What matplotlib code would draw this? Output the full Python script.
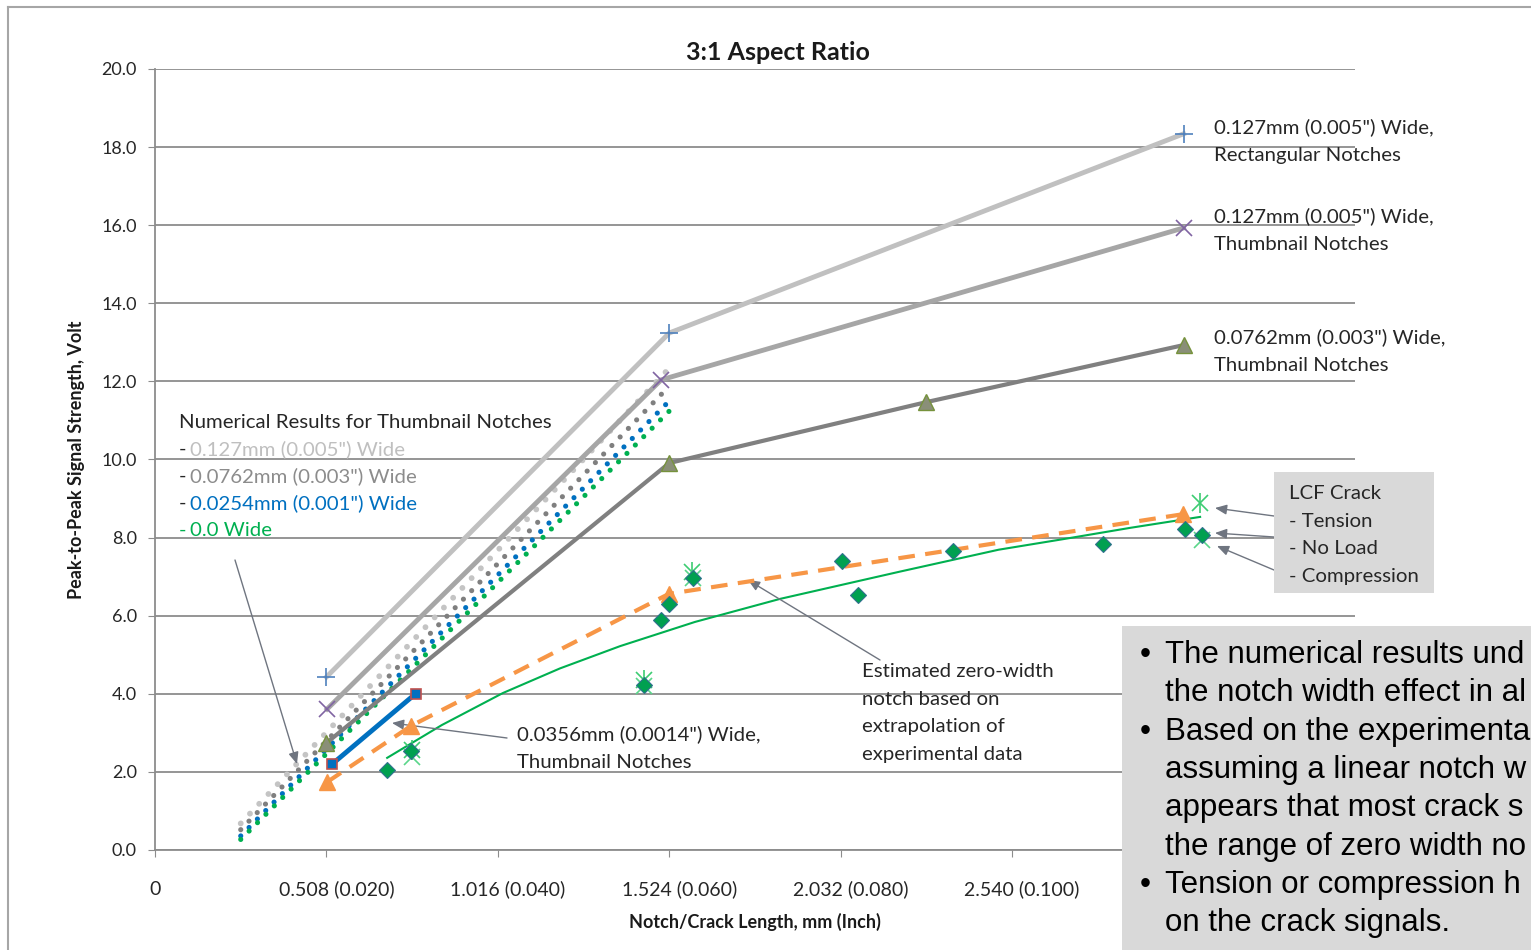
import matplotlib
matplotlib.use('Agg')
import matplotlib.pyplot as plt
from matplotlib.patches import Rectangle
from matplotlib.lines import Line2D
from matplotlib.transforms import ScaledTranslation

# Numerical results (thumbnail / rectangular notches), mm and Volt
x_rect127 = [0.508, 1.524, 3.048]
y_rect127 = [4.43, 13.24, 18.34]
x_thumb127 = [0.510, 1.500, 3.048]
y_thumb127 = [3.61, 12.04, 15.93]
x_thumb076 = [0.508, 1.524, 2.286, 3.048]
y_thumb076 = [2.74, 9.91, 11.47, 12.93]
x_thumb036 = [0.525, 0.772]
y_thumb036 = [2.20, 4.00]

# numerical thumbnail results (dotted)
x_num = [0.254, 1.524]
y_num127 = [0.68, 12.34]
y_num076 = [0.52, 11.88]
y_num025 = [0.36, 11.50]
y_num000 = [0.27, 11.24]

# LCF crack data
x_tension = [0.762, 1.449, 1.592, 3.097]
y_tension = [2.55, 4.35, 7.12, 8.89]
x_noload = [0.688, 0.759, 1.449, 1.500, 1.523, 1.595, 2.036, 2.084, 2.365, 2.810, 3.053, 3.103]
y_noload = [2.05, 2.54, 4.23, 5.89, 6.30, 6.97, 7.40, 6.53, 7.66, 7.84, 8.22, 8.07]
x_comp = [0.762, 1.449, 1.595, 3.103]
y_comp = [2.38, 4.20, 6.97, 7.94]

# estimated zero-width notch
x_est = [0.510, 0.759, 1.523, 3.047]
y_est = [1.74, 3.18, 6.56, 8.60]

# trend through experimental data
x_fit = [0.688, 0.85, 1.031, 1.2, 1.378, 1.6, 1.852, 2.208, 2.5, 2.691, 2.890, 3.097]
y_fit = [2.36, 3.20, 4.02, 4.65, 5.22, 5.84, 6.43, 7.13, 7.69, 7.96, 8.25, 8.53]

xtick_vals = [0, 0.508, 1.016, 1.524, 2.032, 2.540, 3.048]
xtick_labels = ['0', '0.508 (0.020)', '1.016 (0.040)', '1.524 (0.060)',
                '2.032 (0.080)', '2.540 (0.100)', '']

W, H = 1531, 950
FONT = 'Lato'
plt.rcParams['font.family'] = [FONT, 'DejaVu Sans']

fig = plt.figure(figsize=(W / 100, H / 100), dpi=100)


def fx(px):
    return px / W


def fy(py):
    return 1 - py / H


ax = fig.add_axes([fx(155), fy(850), 1200 / W, 781 / H])
ax.set_xlim(0, 3.556)
ax.set_ylim(0, 20)

grid_c = '#8c8c8c'
ax.set_yticks(range(0, 21, 2))
ax.set_yticklabels(['%.1f' % v for v in range(0, 21, 2)])
ax.set_xticks(xtick_vals)
ax.set_xticklabels(xtick_labels)
ax.yaxis.grid(True, color=grid_c, lw=1.3)
ax.set_axisbelow(True)
for s in ['top', 'right']:
    ax.spines[s].set_visible(False)
for s in ['left', 'bottom']:
    ax.spines[s].set_color(grid_c)
    ax.spines[s].set_linewidth(1.3)
ax.tick_params(axis='y', length=5, color=grid_c, pad=8, labelsize=13, labelcolor='#262626')
ax.tick_params(axis='x', length=5, color=grid_c, pad=17, labelsize=14, labelcolor='#262626')
# Excel puts the long labels a bit right of their ticks
shift = ScaledTranslation(10 / 100, 0, fig.dpi_scale_trans)
for lab in ax.get_xticklabels()[1:]:
    lab.set_transform(lab.get_transform() + shift)

# dotted numerical lines
dot = (0, (0.01, 2.3))
ax.plot(x_num, y_num127, ls=dot, color='#c4c4c4', lw=4.2, dash_capstyle='round', zorder=2)
ax.plot(x_num, y_num076, ls=dot, color='#7f7f7f', lw=3.7, dash_capstyle='round', zorder=2)
ax.plot(x_num, y_num025, ls=dot, color='#0070c0', lw=3.7, dash_capstyle='round', zorder=2)
ax.plot(x_num, y_num000, ls=dot, color='#00b050', lw=3.7, dash_capstyle='round', zorder=2)

# notch lines
ax.plot(x_rect127, y_rect127, color='#c0c0c0', lw=3.5, marker='+', ms=13, mew=1.2,
        mec='#4f81bd', zorder=3)
ax.plot(x_thumb127, y_thumb127, color='#a6a6a6', lw=3.5, marker='x', ms=11, mew=1.2,
        mec='#8064a2', zorder=3)
ax.plot(x_thumb076, y_thumb076, color='#808080', lw=3, marker='^', ms=11,
        mfc='#8a8f78', mec='#76923c', mew=1, zorder=3)
ax.plot(x_thumb036, y_thumb036, color='#0070c0', lw=3.5, marker='s', ms=7,
        mfc='#0070c0', mec='#c0504d', mew=1.2, zorder=3)

# experimental
ax.plot(x_fit, y_fit, color='#00b050', lw=1.5, zorder=3)
ax.plot(x_est, y_est, color='#f79646', lw=3, ls=(0, (4, 2.5)), marker='^', ms=11,
        mfc='#f79646', mec='#f79646', zorder=4)
ax.plot(x_tension, y_tension, ls='none', marker='x', ms=11, mew=1.2, mec='#3dcc72', zorder=4)
ax.plot(x_tension, y_tension, ls='none', marker='|', ms=15, mew=1.2, mec='#3dcc72', zorder=4)
ax.plot(x_comp, y_comp, ls='none', marker='x', ms=11, mew=1.2, mec='#5ad68a', zorder=4)
ax.plot(x_noload, y_noload, ls='none', marker='D', ms=8, mfc='#00a050', mec='#31708f',
        mew=0.8, zorder=5)

# outer chart border
fig.add_artist(Line2D([fx(8), fx(8)], [fy(7), 0], color='#a6a6a6', lw=1.5))
fig.add_artist(Line2D([fx(8), 1], [fy(7), fy(7)], color='#a6a6a6', lw=1.5))

# titles
fig.text(fx(778), fy(52), '3:1 Aspect Ratio', ha='center', va='center', fontsize=18,
         fontweight='bold', color='#1a1a1a')
fig.text(fx(77), fy(460), 'Peak-to-Peak Signal Strength, Volt', ha='center', va='center',
         rotation=90, fontsize=13, fontweight='bold', color='#1a1a1a')
fig.text(fx(755), fy(922), 'Notch/Crack Length, mm (Inch)', ha='center', va='center',
         fontsize=13, fontweight='bold', color='#1a1a1a')

tc = '#262626'
ts = 14.7
ls_ = 1.74
# numerical legend
fig.text(fx(179), fy(422), 'Numerical Results for Thumbnail Notches', va='center',
         fontsize=ts, color=tc)
leg_rows = [('0.127mm (0.005") Wide', '#bfbfbf', 449),
            ('0.0762mm (0.003") Wide', '#8c8c8c', 476),
            ('0.0254mm (0.001") Wide', '#0070c0', 503),
            ('0.0 Wide', '#00b050', 530)]
for lab, c, py in leg_rows:
    fig.text(fx(179), fy(py), '-', va='center', fontsize=ts, color=tc if c != '#00b050' else c)
    fig.text(fx(190), fy(py), lab, va='center', fontsize=ts, color=c)

# right labels
fig.text(fx(1214), fy(141), '0.127mm (0.005") Wide,\nRectangular Notches', va='center',
         fontsize=ts, color=tc, linespacing=ls_)
fig.text(fx(1214), fy(230), '0.127mm (0.005") Wide,\nThumbnail Notches', va='center',
         fontsize=ts, color=tc, linespacing=ls_)
fig.text(fx(1214), fy(351), '0.0762mm (0.003") Wide,\nThumbnail Notches', va='center',
         fontsize=ts, color=tc, linespacing=ls_)
fig.text(fx(517), fy(748), '0.0356mm (0.0014") Wide,\nThumbnail Notches', va='center',
         fontsize=ts, color=tc, linespacing=ls_)
fig.text(fx(862), fy(713), 'Estimated zero-width\nnotch based on\nextrapolation of\nexperimental data',
         va='center', fontsize=ts, color=tc, linespacing=ls_)

# arrows (figure pixels)
arrow_kw = dict(arrowstyle='-|>,head_length=0.7,head_width=0.3', color='#6f7580', lw=1,
                shrinkA=0, shrinkB=0)


def arrow(x0, y0, x1, y1):
    ax.annotate('', xy=(x1, H - y1), xycoords='figure pixels', xytext=(x0, H - y0),
                textcoords='figure pixels', arrowprops=arrow_kw, annotation_clip=False)


arrow(235, 560, 297, 764)
arrow(507, 738, 392, 723)
arrow(880, 660, 748, 580)

# LCF box
fig.add_artist(Rectangle((fx(1274), fy(593)), 160 / W, 121 / H, transform=fig.transFigure,
                         facecolor='#d9d9d9', edgecolor='none'))
fig.text(fx(1289), fy(535), 'LCF Crack\n- Tension\n- No Load\n- Compression', va='center',
         fontsize=ts, color=tc, linespacing=ls_)
arrow(1274, 516, 1215, 508)
arrow(1274, 537, 1215, 533)
arrow(1274, 570, 1217, 546)

# bullet text box
fig.add_artist(Rectangle((fx(1122), 0), 500 / W, (950 - 626) / H, transform=fig.transFigure,
                         facecolor='#d9d9d9', edgecolor='none'))
bullet_lines = [('\u2022', 'The numerical results und'),
                ('', 'the notch width effect in al'),
                ('\u2022', 'Based on the experimenta'),
                ('', 'assuming a linear notch w'),
                ('', 'appears that most crack s'),
                ('', 'the range of zero width no'),
                ('\u2022', 'Tension or compression h'),
                ('', 'on the crack signals.')]
for i, (b, line) in enumerate(bullet_lines):
    py = 655 + i * 38.3
    if b:
        fig.text(fx(1140), fy(py), b, va='center', fontsize=22.5, family='Liberation Sans',
                 color='#000000')
    fig.text(fx(1165), fy(py), line, va='center', fontsize=22.5, family='Liberation Sans',
             color='#000000')

fig.savefig('out.png', dpi=100)
